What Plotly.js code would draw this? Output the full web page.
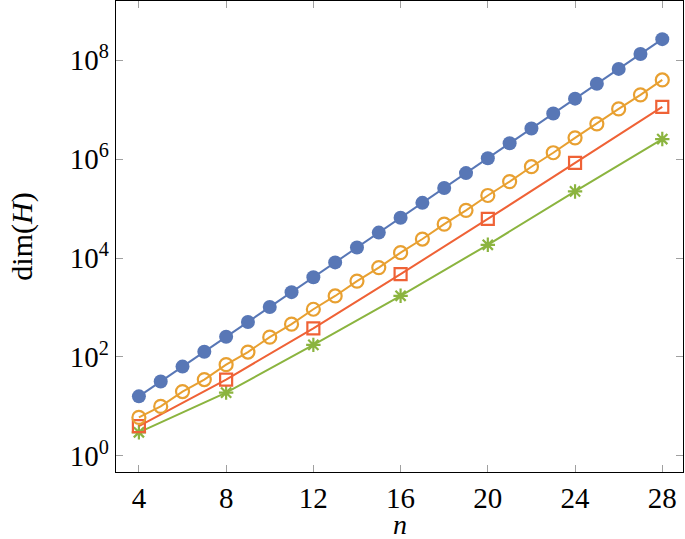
<!DOCTYPE html>
<html>
<head>
<meta charset="utf-8">
<script src="https://cdn.plot.ly/plotly-3.0.1.min.js"></script>
<style>html,body{margin:0;padding:0;background:#fff;}#chart{width:685px;height:539px;}</style>
</head>
<body>
<div id="chart"></div>
<script>
// n values
const nAll = [4,5,6,7,8,9,10,11,12,13,14,15,16,17,18,19,20,21,22,23,24,25,26,27,28];
const nStep4 = [4,8,12,16,20,24,28];
// series values
const blueDim = [16,32,64,128,256,512,1024,2048,4096,8192,16384,32768,65536,131072,262144,524288,1048576,2097152,4194304,8388608,16777216,33554432,67108864,134217728,268435456];
const orangeDim = [6,10,20,35,70,126,252,462,924,1716,3432,6435,12870,24310,48620,92378,184756,352716,705432,1352078,2704156,5200300,10400600,20058300,40116600];
const redDim = [4,35,380,4750,62000,840000,11400000];
const greenDim = [3,19,176,1730,18600,223000,2560000];
// tick labels
const xTicks = [4,8,12,16,20,24,28];
const yTickVals = [1,100,10000,1000000,100000000];
const yTickText = ['10<sup>0</sup>','10<sup>2</sup>','10<sup>4</sup>','10<sup>6</sup>','10<sup>8</sup>'];

const C = {blue:'#5877B6', orange:'#E8A031', red:'#EF6236', green:'#8BB43F'};
const font = "'Liberation Serif', 'DejaVu Serif', serif";

const traces = [
  {x:nStep4, y:greenDim, mode:'lines+markers', line:{color:C.green,width:2},
   marker:{symbol:'asterisk-open', size:12, color:C.green, line:{color:C.green,width:2.2}}},
  {x:nStep4, y:redDim, mode:'lines+markers', line:{color:C.red,width:2},
   marker:{symbol:'square-open', size:12, color:C.red, line:{color:C.red,width:2.2}}},
  {x:nAll, y:orangeDim, mode:'lines+markers', line:{color:C.orange,width:2},
   marker:{symbol:'circle-open', size:13, color:C.orange, line:{color:C.orange,width:2.2}}},
  {x:nAll, y:blueDim, mode:'lines+markers', line:{color:C.blue,width:2},
   marker:{symbol:'circle', size:14, color:C.blue}}
];

const axisCommon = {
  showgrid:false, zeroline:false, showline:true, linecolor:'#000', linewidth:1.3,
  mirror:'ticks', ticks:'inside', ticklen:7, tickwidth:1, tickcolor:'#a0a0a0',
  tickfont:{family:font, size:29, color:'#000'}
};

const layout = {
  width:685, height:539,
  margin:{l:116, r:2, t:1, b:67},
  paper_bgcolor:'#fff', plot_bgcolor:'#fff',
  showlegend:false,
  font:{family:font, color:'#000'},
  xaxis:Object.assign({}, axisCommon, {
    range:[2.95, 28.95], tickvals:xTicks, ticktext:xTicks.map(String)
  }),
  yaxis:Object.assign({}, axisCommon, {
    type:'log', range:[-0.326, 9.2], tickvals:yTickVals, ticktext:yTickText,
    title:{text:'dim(<i>H</i>)', font:{family:font, size:30, color:'#000'}, standoff:28}
  }),
  annotations:[{
    text:'<i>n</i>', xref:'paper', yref:'paper', x:0.5, y:(472-524)/471,
    xanchor:'center', yanchor:'middle', showarrow:false,
    font:{family:font, size:28, color:'#000'}
  }]
};

Plotly.newPlot('chart', traces, layout, {staticPlot:true, displayModeBar:false});
</script>
</body>
</html>
